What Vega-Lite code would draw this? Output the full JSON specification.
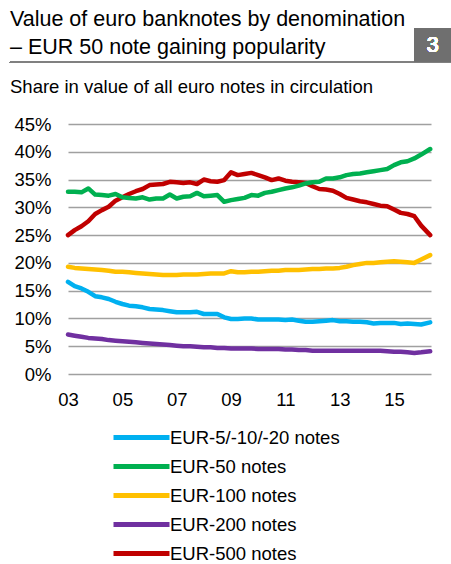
{
  "$schema": "https://vega.github.io/schema/vega-lite/v6.json",
  "width": 363,
  "height": 250,
  "autosize": "none",
  "padding": {"left": 68, "top": 124, "right": 20, "bottom": 190},
  "title": {
    "text": ["Value of euro banknotes by denomination", " – EUR 50 note gaining popularity"],
    "subtitle": "Share in value of all euro notes in circulation",
    "anchor": "start",
    "frame": "group",
    "dx": -58,
    "offset": -68,
    "font": "Liberation Sans",
    "fontSize": 21.5,
    "fontWeight": "normal",
    "lineHeight": 28,
    "color": "#000000",
    "subtitleFont": "Liberation Sans",
    "subtitleFontSize": 18.5,
    "subtitleColor": "#000000",
    "subtitlePadding": 20
  },
  "config": {
    "font": "Liberation Sans",
    "view": {"stroke": null},
    "axis": {
      "labelFont": "Liberation Sans",
      "labelFontSize": 18.5,
      "labelColor": "#000000",
      "domain": false,
      "ticks": false,
      "title": null,
      "labelOverlap": false
    }
  },
  "data": {
    "values": [
      {"date": "2003-01-01", "series": "EUR-500 notes", "share": 25.0},
      {"date": "2003-04-01", "series": "EUR-500 notes", "share": 25.9},
      {"date": "2003-07-01", "series": "EUR-500 notes", "share": 26.6},
      {"date": "2003-10-01", "series": "EUR-500 notes", "share": 27.5},
      {"date": "2004-01-01", "series": "EUR-500 notes", "share": 28.8},
      {"date": "2004-04-01", "series": "EUR-500 notes", "share": 29.5},
      {"date": "2004-07-01", "series": "EUR-500 notes", "share": 30.1},
      {"date": "2004-10-01", "series": "EUR-500 notes", "share": 31.2},
      {"date": "2005-01-01", "series": "EUR-500 notes", "share": 31.8},
      {"date": "2005-04-01", "series": "EUR-500 notes", "share": 32.4},
      {"date": "2005-07-01", "series": "EUR-500 notes", "share": 32.9},
      {"date": "2005-10-01", "series": "EUR-500 notes", "share": 33.3},
      {"date": "2006-01-01", "series": "EUR-500 notes", "share": 34.0},
      {"date": "2006-04-01", "series": "EUR-500 notes", "share": 34.1},
      {"date": "2006-07-01", "series": "EUR-500 notes", "share": 34.2},
      {"date": "2006-10-01", "series": "EUR-500 notes", "share": 34.6},
      {"date": "2007-01-01", "series": "EUR-500 notes", "share": 34.5},
      {"date": "2007-04-01", "series": "EUR-500 notes", "share": 34.4},
      {"date": "2007-07-01", "series": "EUR-500 notes", "share": 34.5},
      {"date": "2007-10-01", "series": "EUR-500 notes", "share": 34.2},
      {"date": "2008-01-01", "series": "EUR-500 notes", "share": 35.0},
      {"date": "2008-04-01", "series": "EUR-500 notes", "share": 34.7},
      {"date": "2008-07-01", "series": "EUR-500 notes", "share": 34.6},
      {"date": "2008-10-01", "series": "EUR-500 notes", "share": 34.9},
      {"date": "2009-01-01", "series": "EUR-500 notes", "share": 36.3},
      {"date": "2009-04-01", "series": "EUR-500 notes", "share": 35.8},
      {"date": "2009-07-01", "series": "EUR-500 notes", "share": 36.0},
      {"date": "2009-10-01", "series": "EUR-500 notes", "share": 36.2},
      {"date": "2010-01-01", "series": "EUR-500 notes", "share": 35.8},
      {"date": "2010-04-01", "series": "EUR-500 notes", "share": 35.4},
      {"date": "2010-07-01", "series": "EUR-500 notes", "share": 34.9},
      {"date": "2010-10-01", "series": "EUR-500 notes", "share": 35.2},
      {"date": "2011-01-01", "series": "EUR-500 notes", "share": 34.8},
      {"date": "2011-04-01", "series": "EUR-500 notes", "share": 34.6},
      {"date": "2011-07-01", "series": "EUR-500 notes", "share": 34.5},
      {"date": "2011-10-01", "series": "EUR-500 notes", "share": 34.4},
      {"date": "2012-01-01", "series": "EUR-500 notes", "share": 33.8},
      {"date": "2012-04-01", "series": "EUR-500 notes", "share": 33.3},
      {"date": "2012-07-01", "series": "EUR-500 notes", "share": 33.2},
      {"date": "2012-10-01", "series": "EUR-500 notes", "share": 33.0},
      {"date": "2013-01-01", "series": "EUR-500 notes", "share": 32.4},
      {"date": "2013-04-01", "series": "EUR-500 notes", "share": 31.7},
      {"date": "2013-07-01", "series": "EUR-500 notes", "share": 31.4},
      {"date": "2013-10-01", "series": "EUR-500 notes", "share": 31.1},
      {"date": "2014-01-01", "series": "EUR-500 notes", "share": 30.9},
      {"date": "2014-04-01", "series": "EUR-500 notes", "share": 30.6},
      {"date": "2014-07-01", "series": "EUR-500 notes", "share": 30.3},
      {"date": "2014-10-01", "series": "EUR-500 notes", "share": 30.2},
      {"date": "2015-01-01", "series": "EUR-500 notes", "share": 29.6},
      {"date": "2015-04-01", "series": "EUR-500 notes", "share": 29.0},
      {"date": "2015-07-01", "series": "EUR-500 notes", "share": 28.8},
      {"date": "2015-10-01", "series": "EUR-500 notes", "share": 28.4},
      {"date": "2016-01-01", "series": "EUR-500 notes", "share": 26.7},
      {"date": "2016-05-01", "series": "EUR-500 notes", "share": 25.0},

      {"date": "2003-01-01", "series": "EUR-50 notes", "share": 32.8},
      {"date": "2003-04-01", "series": "EUR-50 notes", "share": 32.8},
      {"date": "2003-07-01", "series": "EUR-50 notes", "share": 32.7},
      {"date": "2003-10-01", "series": "EUR-50 notes", "share": 33.4},
      {"date": "2004-01-01", "series": "EUR-50 notes", "share": 32.3},
      {"date": "2004-04-01", "series": "EUR-50 notes", "share": 32.2},
      {"date": "2004-07-01", "series": "EUR-50 notes", "share": 32.1},
      {"date": "2004-10-01", "series": "EUR-50 notes", "share": 32.4},
      {"date": "2005-01-01", "series": "EUR-50 notes", "share": 31.8},
      {"date": "2005-04-01", "series": "EUR-50 notes", "share": 31.7},
      {"date": "2005-07-01", "series": "EUR-50 notes", "share": 31.6},
      {"date": "2005-10-01", "series": "EUR-50 notes", "share": 31.8},
      {"date": "2006-01-01", "series": "EUR-50 notes", "share": 31.4},
      {"date": "2006-04-01", "series": "EUR-50 notes", "share": 31.6},
      {"date": "2006-07-01", "series": "EUR-50 notes", "share": 31.6},
      {"date": "2006-10-01", "series": "EUR-50 notes", "share": 32.3},
      {"date": "2007-01-01", "series": "EUR-50 notes", "share": 31.6},
      {"date": "2007-04-01", "series": "EUR-50 notes", "share": 31.9},
      {"date": "2007-07-01", "series": "EUR-50 notes", "share": 32.0},
      {"date": "2007-10-01", "series": "EUR-50 notes", "share": 32.6},
      {"date": "2008-01-01", "series": "EUR-50 notes", "share": 32.0},
      {"date": "2008-04-01", "series": "EUR-50 notes", "share": 32.1},
      {"date": "2008-07-01", "series": "EUR-50 notes", "share": 32.2},
      {"date": "2008-10-01", "series": "EUR-50 notes", "share": 31.0},
      {"date": "2009-01-01", "series": "EUR-50 notes", "share": 31.3},
      {"date": "2009-04-01", "series": "EUR-50 notes", "share": 31.5},
      {"date": "2009-07-01", "series": "EUR-50 notes", "share": 31.7},
      {"date": "2009-10-01", "series": "EUR-50 notes", "share": 32.2},
      {"date": "2010-01-01", "series": "EUR-50 notes", "share": 32.1},
      {"date": "2010-04-01", "series": "EUR-50 notes", "share": 32.6},
      {"date": "2010-07-01", "series": "EUR-50 notes", "share": 32.8},
      {"date": "2010-10-01", "series": "EUR-50 notes", "share": 33.1},
      {"date": "2011-01-01", "series": "EUR-50 notes", "share": 33.4},
      {"date": "2011-04-01", "series": "EUR-50 notes", "share": 33.6},
      {"date": "2011-07-01", "series": "EUR-50 notes", "share": 33.9},
      {"date": "2011-10-01", "series": "EUR-50 notes", "share": 34.3},
      {"date": "2012-01-01", "series": "EUR-50 notes", "share": 34.5},
      {"date": "2012-04-01", "series": "EUR-50 notes", "share": 34.6},
      {"date": "2012-07-01", "series": "EUR-50 notes", "share": 35.2},
      {"date": "2012-10-01", "series": "EUR-50 notes", "share": 35.2},
      {"date": "2013-01-01", "series": "EUR-50 notes", "share": 35.4},
      {"date": "2013-04-01", "series": "EUR-50 notes", "share": 35.8},
      {"date": "2013-07-01", "series": "EUR-50 notes", "share": 36.0},
      {"date": "2013-10-01", "series": "EUR-50 notes", "share": 36.1},
      {"date": "2014-01-01", "series": "EUR-50 notes", "share": 36.3},
      {"date": "2014-04-01", "series": "EUR-50 notes", "share": 36.5},
      {"date": "2014-07-01", "series": "EUR-50 notes", "share": 36.7},
      {"date": "2014-10-01", "series": "EUR-50 notes", "share": 36.9},
      {"date": "2015-01-01", "series": "EUR-50 notes", "share": 37.6},
      {"date": "2015-04-01", "series": "EUR-50 notes", "share": 38.1},
      {"date": "2015-07-01", "series": "EUR-50 notes", "share": 38.3},
      {"date": "2015-10-01", "series": "EUR-50 notes", "share": 38.8},
      {"date": "2016-01-01", "series": "EUR-50 notes", "share": 39.5},
      {"date": "2016-05-01", "series": "EUR-50 notes", "share": 40.5},

      {"date": "2003-01-01", "series": "EUR-100 notes", "share": 19.3},
      {"date": "2003-04-01", "series": "EUR-100 notes", "share": 19.1},
      {"date": "2003-07-01", "series": "EUR-100 notes", "share": 19.0},
      {"date": "2003-10-01", "series": "EUR-100 notes", "share": 18.9},
      {"date": "2004-01-01", "series": "EUR-100 notes", "share": 18.8},
      {"date": "2004-04-01", "series": "EUR-100 notes", "share": 18.7},
      {"date": "2004-07-01", "series": "EUR-100 notes", "share": 18.6},
      {"date": "2004-10-01", "series": "EUR-100 notes", "share": 18.4},
      {"date": "2005-01-01", "series": "EUR-100 notes", "share": 18.4},
      {"date": "2005-04-01", "series": "EUR-100 notes", "share": 18.3},
      {"date": "2005-07-01", "series": "EUR-100 notes", "share": 18.2},
      {"date": "2005-10-01", "series": "EUR-100 notes", "share": 18.1},
      {"date": "2006-01-01", "series": "EUR-100 notes", "share": 18.0},
      {"date": "2006-04-01", "series": "EUR-100 notes", "share": 17.9},
      {"date": "2006-07-01", "series": "EUR-100 notes", "share": 17.8},
      {"date": "2006-10-01", "series": "EUR-100 notes", "share": 17.8},
      {"date": "2007-01-01", "series": "EUR-100 notes", "share": 17.8},
      {"date": "2007-04-01", "series": "EUR-100 notes", "share": 17.9},
      {"date": "2007-07-01", "series": "EUR-100 notes", "share": 17.9},
      {"date": "2007-10-01", "series": "EUR-100 notes", "share": 17.9},
      {"date": "2008-01-01", "series": "EUR-100 notes", "share": 18.0},
      {"date": "2008-04-01", "series": "EUR-100 notes", "share": 18.1},
      {"date": "2008-07-01", "series": "EUR-100 notes", "share": 18.1},
      {"date": "2008-10-01", "series": "EUR-100 notes", "share": 18.1},
      {"date": "2009-01-01", "series": "EUR-100 notes", "share": 18.5},
      {"date": "2009-04-01", "series": "EUR-100 notes", "share": 18.3},
      {"date": "2009-07-01", "series": "EUR-100 notes", "share": 18.3},
      {"date": "2009-10-01", "series": "EUR-100 notes", "share": 18.4},
      {"date": "2010-01-01", "series": "EUR-100 notes", "share": 18.4},
      {"date": "2010-04-01", "series": "EUR-100 notes", "share": 18.5},
      {"date": "2010-07-01", "series": "EUR-100 notes", "share": 18.6},
      {"date": "2010-10-01", "series": "EUR-100 notes", "share": 18.6},
      {"date": "2011-01-01", "series": "EUR-100 notes", "share": 18.7},
      {"date": "2011-04-01", "series": "EUR-100 notes", "share": 18.7},
      {"date": "2011-07-01", "series": "EUR-100 notes", "share": 18.7},
      {"date": "2011-10-01", "series": "EUR-100 notes", "share": 18.8},
      {"date": "2012-01-01", "series": "EUR-100 notes", "share": 18.9},
      {"date": "2012-04-01", "series": "EUR-100 notes", "share": 18.9},
      {"date": "2012-07-01", "series": "EUR-100 notes", "share": 19.0},
      {"date": "2012-10-01", "series": "EUR-100 notes", "share": 19.0},
      {"date": "2013-01-01", "series": "EUR-100 notes", "share": 19.1},
      {"date": "2013-04-01", "series": "EUR-100 notes", "share": 19.3},
      {"date": "2013-07-01", "series": "EUR-100 notes", "share": 19.6},
      {"date": "2013-10-01", "series": "EUR-100 notes", "share": 19.8},
      {"date": "2014-01-01", "series": "EUR-100 notes", "share": 20.0},
      {"date": "2014-04-01", "series": "EUR-100 notes", "share": 20.0},
      {"date": "2014-07-01", "series": "EUR-100 notes", "share": 20.1},
      {"date": "2014-10-01", "series": "EUR-100 notes", "share": 20.2},
      {"date": "2015-01-01", "series": "EUR-100 notes", "share": 20.3},
      {"date": "2015-04-01", "series": "EUR-100 notes", "share": 20.2},
      {"date": "2015-07-01", "series": "EUR-100 notes", "share": 20.1},
      {"date": "2015-10-01", "series": "EUR-100 notes", "share": 20.0},
      {"date": "2016-01-01", "series": "EUR-100 notes", "share": 20.6},
      {"date": "2016-05-01", "series": "EUR-100 notes", "share": 21.4},

      {"date": "2003-01-01", "series": "EUR-5/-10/-20 notes", "share": 16.6},
      {"date": "2003-04-01", "series": "EUR-5/-10/-20 notes", "share": 15.8},
      {"date": "2003-07-01", "series": "EUR-5/-10/-20 notes", "share": 15.4},
      {"date": "2003-10-01", "series": "EUR-5/-10/-20 notes", "share": 14.8},
      {"date": "2004-01-01", "series": "EUR-5/-10/-20 notes", "share": 14.0},
      {"date": "2004-04-01", "series": "EUR-5/-10/-20 notes", "share": 13.8},
      {"date": "2004-07-01", "series": "EUR-5/-10/-20 notes", "share": 13.5},
      {"date": "2004-10-01", "series": "EUR-5/-10/-20 notes", "share": 13.0},
      {"date": "2005-01-01", "series": "EUR-5/-10/-20 notes", "share": 12.6},
      {"date": "2005-04-01", "series": "EUR-5/-10/-20 notes", "share": 12.3},
      {"date": "2005-07-01", "series": "EUR-5/-10/-20 notes", "share": 12.2},
      {"date": "2005-10-01", "series": "EUR-5/-10/-20 notes", "share": 12.0},
      {"date": "2006-01-01", "series": "EUR-5/-10/-20 notes", "share": 11.7},
      {"date": "2006-04-01", "series": "EUR-5/-10/-20 notes", "share": 11.6},
      {"date": "2006-07-01", "series": "EUR-5/-10/-20 notes", "share": 11.5},
      {"date": "2006-10-01", "series": "EUR-5/-10/-20 notes", "share": 11.3},
      {"date": "2007-01-01", "series": "EUR-5/-10/-20 notes", "share": 11.1},
      {"date": "2007-04-01", "series": "EUR-5/-10/-20 notes", "share": 11.1},
      {"date": "2007-07-01", "series": "EUR-5/-10/-20 notes", "share": 11.1},
      {"date": "2007-10-01", "series": "EUR-5/-10/-20 notes", "share": 11.2},
      {"date": "2008-01-01", "series": "EUR-5/-10/-20 notes", "share": 10.8},
      {"date": "2008-04-01", "series": "EUR-5/-10/-20 notes", "share": 10.8},
      {"date": "2008-07-01", "series": "EUR-5/-10/-20 notes", "share": 10.8},
      {"date": "2008-10-01", "series": "EUR-5/-10/-20 notes", "share": 10.2},
      {"date": "2009-01-01", "series": "EUR-5/-10/-20 notes", "share": 9.9},
      {"date": "2009-04-01", "series": "EUR-5/-10/-20 notes", "share": 9.9},
      {"date": "2009-07-01", "series": "EUR-5/-10/-20 notes", "share": 10.0},
      {"date": "2009-10-01", "series": "EUR-5/-10/-20 notes", "share": 10.0},
      {"date": "2010-01-01", "series": "EUR-5/-10/-20 notes", "share": 9.8},
      {"date": "2010-04-01", "series": "EUR-5/-10/-20 notes", "share": 9.8},
      {"date": "2010-07-01", "series": "EUR-5/-10/-20 notes", "share": 9.8},
      {"date": "2010-10-01", "series": "EUR-5/-10/-20 notes", "share": 9.8},
      {"date": "2011-01-01", "series": "EUR-5/-10/-20 notes", "share": 9.7},
      {"date": "2011-04-01", "series": "EUR-5/-10/-20 notes", "share": 9.8},
      {"date": "2011-07-01", "series": "EUR-5/-10/-20 notes", "share": 9.6},
      {"date": "2011-10-01", "series": "EUR-5/-10/-20 notes", "share": 9.4},
      {"date": "2012-01-01", "series": "EUR-5/-10/-20 notes", "share": 9.4},
      {"date": "2012-04-01", "series": "EUR-5/-10/-20 notes", "share": 9.5},
      {"date": "2012-07-01", "series": "EUR-5/-10/-20 notes", "share": 9.6},
      {"date": "2012-10-01", "series": "EUR-5/-10/-20 notes", "share": 9.7},
      {"date": "2013-01-01", "series": "EUR-5/-10/-20 notes", "share": 9.5},
      {"date": "2013-04-01", "series": "EUR-5/-10/-20 notes", "share": 9.5},
      {"date": "2013-07-01", "series": "EUR-5/-10/-20 notes", "share": 9.4},
      {"date": "2013-10-01", "series": "EUR-5/-10/-20 notes", "share": 9.4},
      {"date": "2014-01-01", "series": "EUR-5/-10/-20 notes", "share": 9.3},
      {"date": "2014-04-01", "series": "EUR-5/-10/-20 notes", "share": 9.1},
      {"date": "2014-07-01", "series": "EUR-5/-10/-20 notes", "share": 9.2},
      {"date": "2014-10-01", "series": "EUR-5/-10/-20 notes", "share": 9.2},
      {"date": "2015-01-01", "series": "EUR-5/-10/-20 notes", "share": 9.2},
      {"date": "2015-04-01", "series": "EUR-5/-10/-20 notes", "share": 9.0},
      {"date": "2015-07-01", "series": "EUR-5/-10/-20 notes", "share": 9.1},
      {"date": "2015-10-01", "series": "EUR-5/-10/-20 notes", "share": 9.0},
      {"date": "2016-01-01", "series": "EUR-5/-10/-20 notes", "share": 8.9},
      {"date": "2016-05-01", "series": "EUR-5/-10/-20 notes", "share": 9.3},

      {"date": "2003-01-01", "series": "EUR-200 notes", "share": 7.1},
      {"date": "2003-04-01", "series": "EUR-200 notes", "share": 6.9},
      {"date": "2003-07-01", "series": "EUR-200 notes", "share": 6.7},
      {"date": "2003-10-01", "series": "EUR-200 notes", "share": 6.5},
      {"date": "2004-01-01", "series": "EUR-200 notes", "share": 6.4},
      {"date": "2004-04-01", "series": "EUR-200 notes", "share": 6.3},
      {"date": "2004-07-01", "series": "EUR-200 notes", "share": 6.1},
      {"date": "2004-10-01", "series": "EUR-200 notes", "share": 6.0},
      {"date": "2005-01-01", "series": "EUR-200 notes", "share": 5.9},
      {"date": "2005-04-01", "series": "EUR-200 notes", "share": 5.8},
      {"date": "2005-07-01", "series": "EUR-200 notes", "share": 5.7},
      {"date": "2005-10-01", "series": "EUR-200 notes", "share": 5.6},
      {"date": "2006-01-01", "series": "EUR-200 notes", "share": 5.5},
      {"date": "2006-04-01", "series": "EUR-200 notes", "share": 5.4},
      {"date": "2006-07-01", "series": "EUR-200 notes", "share": 5.3},
      {"date": "2006-10-01", "series": "EUR-200 notes", "share": 5.2},
      {"date": "2007-01-01", "series": "EUR-200 notes", "share": 5.1},
      {"date": "2007-04-01", "series": "EUR-200 notes", "share": 5.0},
      {"date": "2007-07-01", "series": "EUR-200 notes", "share": 5.0},
      {"date": "2007-10-01", "series": "EUR-200 notes", "share": 4.9},
      {"date": "2008-01-01", "series": "EUR-200 notes", "share": 4.8},
      {"date": "2008-04-01", "series": "EUR-200 notes", "share": 4.8},
      {"date": "2008-07-01", "series": "EUR-200 notes", "share": 4.7},
      {"date": "2008-10-01", "series": "EUR-200 notes", "share": 4.7},
      {"date": "2009-01-01", "series": "EUR-200 notes", "share": 4.6},
      {"date": "2009-04-01", "series": "EUR-200 notes", "share": 4.6},
      {"date": "2009-07-01", "series": "EUR-200 notes", "share": 4.6},
      {"date": "2009-10-01", "series": "EUR-200 notes", "share": 4.6},
      {"date": "2010-01-01", "series": "EUR-200 notes", "share": 4.5},
      {"date": "2010-04-01", "series": "EUR-200 notes", "share": 4.5},
      {"date": "2010-07-01", "series": "EUR-200 notes", "share": 4.5},
      {"date": "2010-10-01", "series": "EUR-200 notes", "share": 4.5},
      {"date": "2011-01-01", "series": "EUR-200 notes", "share": 4.4},
      {"date": "2011-04-01", "series": "EUR-200 notes", "share": 4.4},
      {"date": "2011-07-01", "series": "EUR-200 notes", "share": 4.3},
      {"date": "2011-10-01", "series": "EUR-200 notes", "share": 4.3},
      {"date": "2012-01-01", "series": "EUR-200 notes", "share": 4.2},
      {"date": "2012-04-01", "series": "EUR-200 notes", "share": 4.2},
      {"date": "2012-07-01", "series": "EUR-200 notes", "share": 4.2},
      {"date": "2012-10-01", "series": "EUR-200 notes", "share": 4.2},
      {"date": "2013-01-01", "series": "EUR-200 notes", "share": 4.2},
      {"date": "2013-04-01", "series": "EUR-200 notes", "share": 4.2},
      {"date": "2013-07-01", "series": "EUR-200 notes", "share": 4.2},
      {"date": "2013-10-01", "series": "EUR-200 notes", "share": 4.2},
      {"date": "2014-01-01", "series": "EUR-200 notes", "share": 4.2},
      {"date": "2014-04-01", "series": "EUR-200 notes", "share": 4.2},
      {"date": "2014-07-01", "series": "EUR-200 notes", "share": 4.2},
      {"date": "2014-10-01", "series": "EUR-200 notes", "share": 4.1},
      {"date": "2015-01-01", "series": "EUR-200 notes", "share": 4.0},
      {"date": "2015-04-01", "series": "EUR-200 notes", "share": 4.0},
      {"date": "2015-07-01", "series": "EUR-200 notes", "share": 3.9},
      {"date": "2015-10-01", "series": "EUR-200 notes", "share": 3.8},
      {"date": "2016-01-01", "series": "EUR-200 notes", "share": 3.9},
      {"date": "2016-05-01", "series": "EUR-200 notes", "share": 4.1}
    ]
  },
  "layer": [
    {
      "mark": {"type": "line", "strokeWidth": 4.5, "strokeCap": "round", "strokeJoin": "round"},
      "encoding": {
        "x": {
          "field": "date",
          "type": "temporal",
          "scale": {"domain": [{"year": 2003, "month": 1, "date": 1}, {"year": 2016, "month": 5, "date": 12}], "nice": false},
          "axis": {
            "values": [{"year": 2003, "month": 1, "date": 1}, {"year": 2005, "month": 1, "date": 1}, {"year": 2007, "month": 1, "date": 1}, {"year": 2009, "month": 1, "date": 1}, {"year": 2011, "month": 1, "date": 1}, {"year": 2013, "month": 1, "date": 1}, {"year": 2015, "month": 1, "date": 1}],
            "format": "%y",
            "grid": false,
            "labelPadding": 16,
            "labelFlush": false
          }
        },
        "y": {
          "field": "share",
          "type": "quantitative",
          "scale": {"domain": [0, 45], "nice": false},
          "axis": {
            "values": [0, 5, 10, 15, 20, 25, 30, 35, 40, 45],
            "labelExpr": "datum.value + '%'",
            "grid": true,
            "gridColor": "#a0a0a0",
            "gridWidth": 1.5,
            "labelPadding": 17
          }
        },
        "color": {
          "field": "series",
          "type": "nominal",
          "scale": {
            "domain": ["EUR-5/-10/-20 notes", "EUR-50 notes", "EUR-100 notes", "EUR-200 notes", "EUR-500 notes"],
            "range": ["#00b0f0", "#00b050", "#ffc000", "#7030a0", "#c00000"]
          },
          "legend": {
            "orient": "none",
            "legendX": 43,
            "legendY": 304,
            "direction": "vertical",
            "title": null,
            "symbolType": "stroke",
            "symbolSize": 3136,
            "symbolStrokeWidth": 5,
            "clipHeight": 19,
            "labelFont": "Liberation Sans",
            "labelFontSize": 18.5,
            "labelColor": "#000000",
            "labelLimit": 400,
            "labelOffset": -2,
            "rowPadding": 10
          }
        }
      }
    },
    {
      "mark": {"type": "rule", "color": "#808080", "strokeWidth": 1.5},
      "encoding": {
        "x": {"datum": {"year": 2000, "month": 11, "date": 12}, "type": "temporal"},
        "x2": {"datum": {"year": 2017, "month": 2, "date": 9}},
        "y": {
          "datum": 56.1,
          "type": "quantitative",
          "axis": {
            "values": [0, 5, 10, 15, 20, 25, 30, 35, 40, 45],
            "labelExpr": "datum.value + '%'",
            "grid": true,
            "gridColor": "#a0a0a0",
            "gridWidth": 1.5,
            "labelPadding": 17
          }
        }
      }
    },
    {
      "mark": {"type": "rect", "color": "#6f6f6f"},
      "encoding": {
        "x": {"datum": {"year": 2015, "month": 9, "date": 28}, "type": "temporal"},
        "x2": {"datum": {"year": 2017, "month": 2, "date": 9}},
        "y": {
          "datum": 56.2,
          "type": "quantitative",
          "axis": {
            "values": [0, 5, 10, 15, 20, 25, 30, 35, 40, 45],
            "labelExpr": "datum.value + '%'",
            "grid": true,
            "gridColor": "#a0a0a0",
            "gridWidth": 1.5,
            "labelPadding": 17
          }
        },
        "y2": {"datum": 62.15}
      }
    },
    {
      "mark": {"type": "text", "color": "#ffffff", "fontSize": 21.5, "fontWeight": "normal", "font": "Liberation Sans", "align": "center", "baseline": "middle"},
      "encoding": {
        "x": {"datum": {"year": 2016, "month": 6, "date": 3}, "type": "temporal"},
        "y": {
          "datum": 59.1,
          "type": "quantitative",
          "axis": {
            "values": [0, 5, 10, 15, 20, 25, 30, 35, 40, 45],
            "labelExpr": "datum.value + '%'",
            "grid": true,
            "gridColor": "#a0a0a0",
            "gridWidth": 1.5,
            "labelPadding": 17
          }
        },
        "text": {"value": "3"}
      }
    }
  ]
}
